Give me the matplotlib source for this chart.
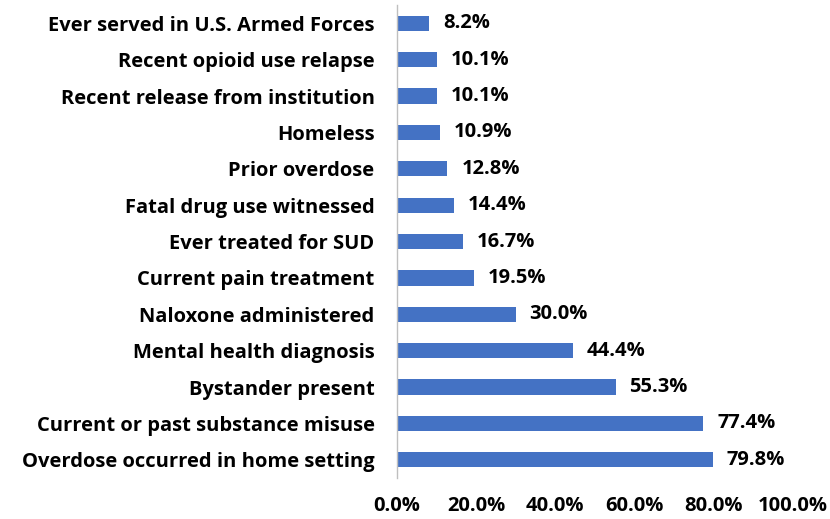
import matplotlib
matplotlib.use("Agg")
import matplotlib.pyplot as plt
from matplotlib.ticker import FuncFormatter

categories = [
    "Overdose occurred in home setting",
    "Current or past substance misuse",
    "Bystander present",
    "Mental health diagnosis",
    "Naloxone administered",
    "Current pain treatment",
    "Ever treated for SUD",
    "Fatal drug use witnessed",
    "Prior overdose",
    "Homeless",
    "Recent release from institution",
    "Recent opioid use relapse",
    "Ever served in U.S. Armed Forces",
]
values = [79.8, 77.4, 55.3, 44.4, 30.0, 19.5, 16.7, 14.4, 12.8, 10.9, 10.1, 10.1, 8.2]
xticks = [0, 20, 40, 60, 80, 100]

plt.rcParams['font.family'] = ['Open Sans', 'DejaVu Sans']
plt.rcParams['font.weight'] = 'bold'
FS = 14.5

fig = plt.figure(figsize=(8.3, 5.19), dpi=100)
ax = fig.add_axes([0.478, 0.079, 0.477, 0.911])

y = list(range(len(categories)))
ax.barh(y, values, height=0.42, color="#4472C4")
for yi, v in zip(y, values):
    ax.text(v + 3.5, yi, f"{v:.1f}%", va="center", ha="left", fontsize=FS, fontweight="bold")

ax.set_xlim(0, 100)
ax.set_ylim(-0.5, len(categories) - 0.5)
ax.set_yticks(y)
ax.set_yticklabels(categories, fontsize=FS, fontweight="bold")
ax.set_xticks(xticks)
ax.xaxis.set_major_formatter(FuncFormatter(lambda x, p: f"{x:.1f}%"))
for lbl in ax.get_xticklabels():
    lbl.set_fontsize(FS)
    lbl.set_fontweight("bold")
ax.tick_params(axis="both", length=0)
ax.tick_params(axis="x", pad=13)
ax.tick_params(axis="y", pad=16)
for s in ["top", "right", "bottom"]:
    ax.spines[s].set_visible(False)
ax.spines["left"].set_color("#BFBFBF")
ax.spines["left"].set_linewidth(1.0)

fig.savefig("out.png", dpi=100)
